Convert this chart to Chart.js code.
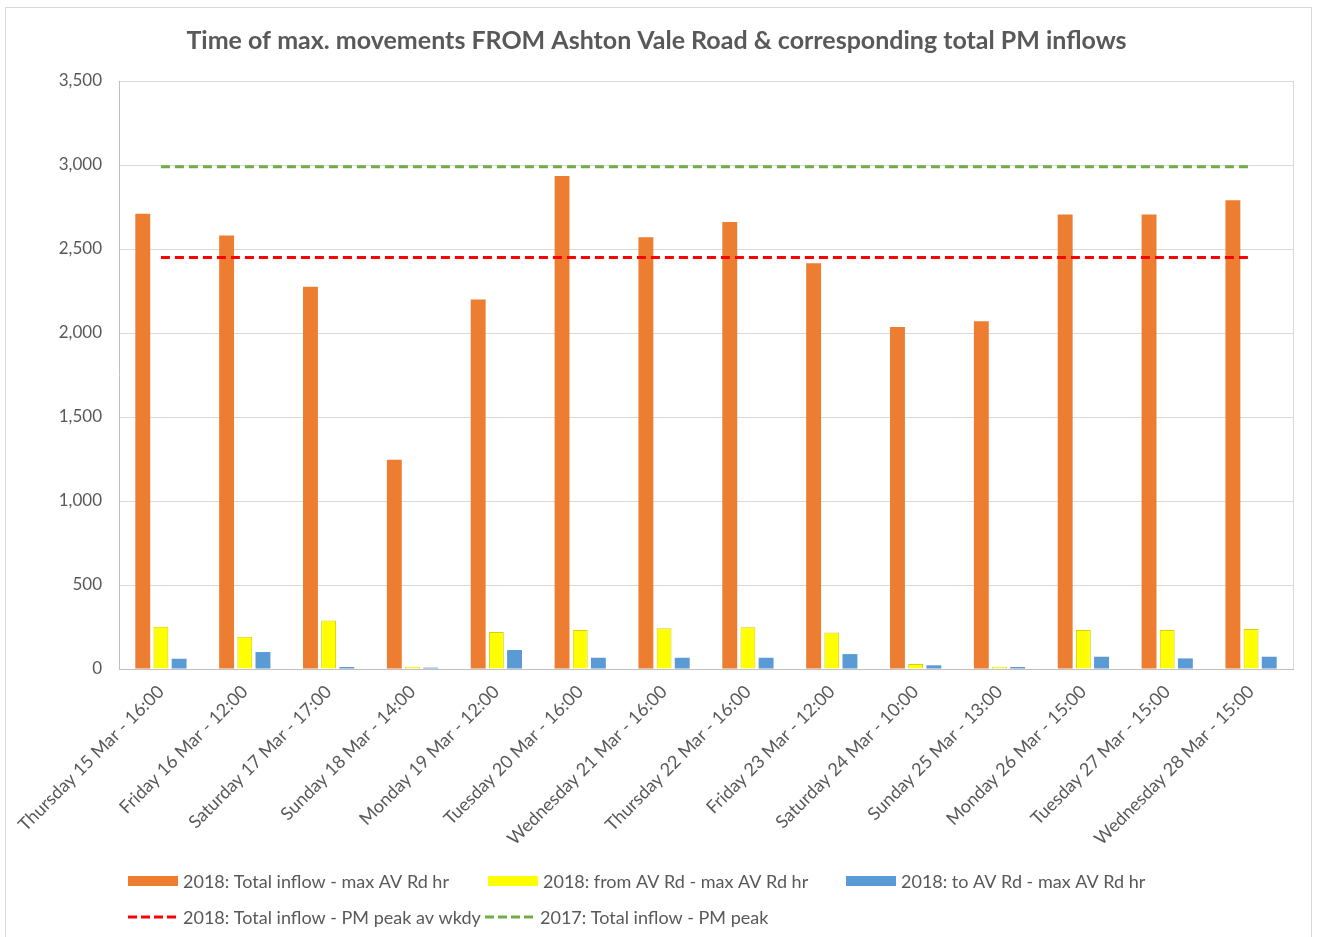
<!DOCTYPE html>
<html>
<head>
<meta charset="utf-8">
<title>Ashton Vale Road movements</title>
<script src="https://cdn.jsdelivr.net/npm/chart.js@4.4.1/dist/chart.umd.min.js"></script>
<style>
  html, body { margin: 0; padding: 0; background: #fff; }
  #frame {
    position: absolute; left: 5px; top: 7px; width: 1307px; height: 960px;
    border: 1px solid #d9d9d9; box-sizing: border-box;
  }
  #chart { position: absolute; left: 0; top: 0; }
</style>
</head>
<body>
<div id="frame"></div>
<canvas id="chart" width="1317" height="937"></canvas>
<script>
// Horas de máximo movimiento por día
const labels = [
    'Thursday 15 Mar - 16:00', 'Friday 16 Mar - 12:00', 'Saturday 17 Mar - 17:00',
    'Sunday 18 Mar - 14:00', 'Monday 19 Mar - 12:00', 'Tuesday 20 Mar - 16:00',
    'Wednesday 21 Mar - 16:00', 'Thursday 22 Mar - 16:00', 'Friday 23 Mar - 12:00',
    'Saturday 24 Mar - 10:00', 'Sunday 25 Mar - 13:00', 'Monday 26 Mar - 15:00',
    'Tuesday 27 Mar - 15:00', 'Wednesday 28 Mar - 15:00'
];

// Totales de entrada y movimientos desde / hacia AV Rd
const totalInflow = [2710, 2580, 2275, 1245, 2200, 2935, 2570, 2660, 2415, 2035, 2070, 2705, 2705, 2790];
const fromAvRd = [252, 192, 288, 14, 220, 232, 242, 248, 218, 30, 14, 232, 232, 238];
const toAvRd = [61, 101, 12, 8, 113, 67, 67, 67, 89, 22, 12, 73, 63, 73];

// Líneas de referencia (pico PM)
const pmPeak2018 = [2450, 2450, 2450, 2450, 2450, 2450, 2450, 2450, 2450, 2450, 2450, 2450, 2450, 2450];
const pmPeak2017 = [2990, 2990, 2990, 2990, 2990, 2990, 2990, 2990, 2990, 2990, 2990, 2990, 2990, 2990];

const yTicks = [0, 500, 1000, 1500, 2000, 2500, 3000, 3500];

const FONT = 'Lato, "Open Sans", sans-serif';
const GREY = '#595959';

// Leyenda dibujada en columnas fijas, como en Excel
const gridLegend = {
    id: 'gridLegend',
    afterDraw(chart, args, opts) {
        const ctx = chart.ctx;
        ctx.save();
        ctx.font = opts.fontSize + 'px ' + FONT;
        ctx.textBaseline = 'middle';
        ctx.fillStyle = GREY;
        chart.data.datasets.forEach((ds, i) => {
            const pos = opts.slots[i];
            const x = pos[0], y = pos[1];
            if (ds.type === 'line') {
                ctx.strokeStyle = ds.borderColor;
                ctx.lineWidth = ds.borderWidth;
                ctx.setLineDash(opts.dash);
                ctx.beginPath();
                ctx.moveTo(x, y);
                ctx.lineTo(x + opts.lineWidth, y);
                ctx.stroke();
                ctx.setLineDash([]);
                ctx.fillStyle = GREY;
                ctx.fillText(ds.label, x + opts.lineWidth + 3, y + 1);
            } else {
                ctx.fillStyle = ds.backgroundColor;
                ctx.fillRect(x, y - 5, opts.boxWidth, 10);
                ctx.fillStyle = GREY;
                ctx.fillText(ds.label, x + opts.boxWidth + 5, y + 1);
            }
        });
        ctx.restore();
    }
};

// Borde derecho del área de trazado
const plotFrame = {
    id: 'plotFrame',
    beforeDatasetsDraw(chart) {
        const a = chart.chartArea;
        const ctx = chart.ctx;
        ctx.save();
        ctx.strokeStyle = '#d9d9d9';
        ctx.lineWidth = 1;
        ctx.beginPath();
        ctx.moveTo(Math.round(a.right) + 0.5, a.top);
        ctx.lineTo(Math.round(a.right) + 0.5, a.bottom);
        ctx.stroke();
        ctx.restore();
    }
};

const barCommon = { type: 'bar', order: 1, categoryPercentage: 0.65, barPercentage: 0.82 };
const lineCommon = { type: 'line', order: 0, borderWidth: 3, borderDash: [9, 5], pointRadius: 0, fill: false, tension: 0 };

new Chart(document.getElementById('chart'), {
    data: {
        labels: labels,
        datasets: [
            { ...barCommon, label: '2018: Total inflow - max AV Rd hr', data: totalInflow, backgroundColor: '#ED7D31' },
            { ...barCommon, label: '2018: from AV Rd - max AV Rd hr', data: fromAvRd, backgroundColor: '#FFFF00', borderColor: '#D9CF00', borderWidth: 1 },
            { ...barCommon, label: '2018: to AV Rd - max AV Rd hr', data: toAvRd, backgroundColor: '#5B9BD5' },
            { ...lineCommon, label: '2018: Total inflow - PM peak av wkdy', data: pmPeak2018, borderColor: '#FF0000' },
            { ...lineCommon, label: '2017: Total inflow - PM peak', data: pmPeak2017, borderColor: '#70AD47' }
        ]
    },
    options: {
        responsive: false,
        animation: false,
        layout: { padding: { left: 20, right: 24, top: 23, bottom: 93 } },
        plugins: {
            legend: { display: false },
            tooltip: { enabled: false },
            title: {
                display: true,
                text: 'Time of max. movements FROM Ashton Vale Road & corresponding total PM inflows',
                color: GREY,
                font: { family: FONT, size: 25, weight: 'bold' },
                padding: { top: 3, bottom: 25 }
            },
            gridLegend: {
                fontSize: 18,
                boxWidth: 50,
                lineWidth: 52,
                dash: [9, 4],
                slots: [[128, 881], [488, 881], [846, 881], [128, 917], [485, 917]]
            }
        },
        scales: {
            x: {
                offset: true,
                grid: { display: false, drawTicks: false },
                border: { color: '#bfbfbf' },
                ticks: {
                    color: GREY,
                    font: { family: FONT, size: 18 },
                    minRotation: 45,
                    maxRotation: 45,
                    autoSkip: false,
                    padding: 12
                },
                afterFit(scale) { scale.height = 175; }
            },
            y: {
                min: 0,
                max: 3500,
                afterBuildTicks(scale) { scale.ticks = yTicks.map(v => ({ value: v })); },
                grid: { color: '#d9d9d9', drawTicks: false },
                border: { color: '#bfbfbf' },
                ticks: {
                    color: GREY,
                    font: { family: FONT, size: 17 },
                    padding: 17,
                    callback: v => v.toLocaleString('en-US')
                },
                afterFit(scale) { scale.width = 99; }
            }
        }
    },
    plugins: [gridLegend, plotFrame]
});
</script>
</body>
</html>
